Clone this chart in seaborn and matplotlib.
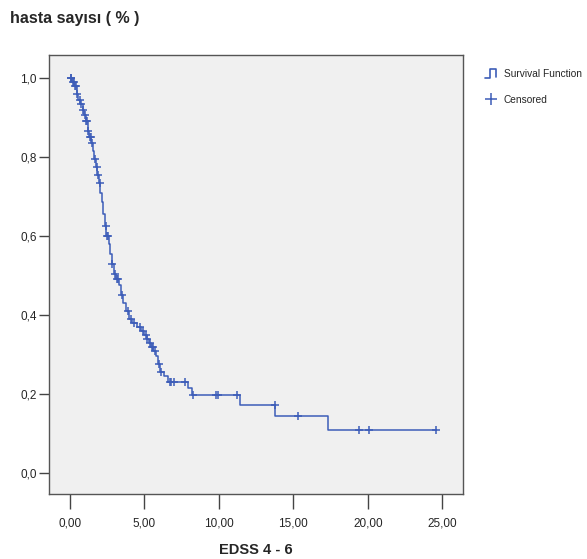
#!/usr/bin/env python3
import numpy as np
import pandas as pd
import seaborn as sns
import matplotlib.pyplot as plt
from matplotlib.lines import Line2D
from matplotlib.legend_handler import HandlerBase

# event times (years) and survival after each event
event_times = [0.15, 0.3, 0.45, 0.55, 0.7, 0.85, 0.95, 1.05, 1.2, 1.3, 1.45, 1.55,
               1.65, 1.75, 1.85, 1.95, 2.05, 2.15, 2.25, 2.35, 2.45, 2.6, 2.7, 2.8,
               2.95, 3.1, 3.3, 3.45, 3.6, 3.8, 4.0, 4.2, 4.5, 4.8, 5.0, 5.15, 5.3,
               5.45, 5.6, 5.75, 5.9, 6.05, 6.3, 6.6, 7.9, 8.2, 11.4, 13.8, 17.3]
survival = [0.99, 0.98, 0.96, 0.945, 0.935, 0.92, 0.905, 0.89, 0.865, 0.85, 0.835,
            0.815, 0.795, 0.775, 0.755, 0.735, 0.71, 0.685, 0.655, 0.625, 0.60, 0.58,
            0.555, 0.53, 0.505, 0.49, 0.475, 0.45, 0.43, 0.41, 0.39, 0.38, 0.37, 0.36,
            0.35, 0.34, 0.33, 0.32, 0.31, 0.295, 0.275, 0.255, 0.245, 0.23, 0.215,
            0.197, 0.172, 0.145, 0.108]
censored_times = [0.05, 0.1, 0.2, 0.25, 0.35, 0.4, 0.5, 0.65, 0.75, 0.9, 1.0, 1.1,
                  1.15, 1.25, 1.35, 1.4, 1.5, 1.7, 1.8, 1.9, 2.0, 2.4, 2.5, 2.55,
                  2.85, 3.0, 3.15, 3.2, 3.5, 3.9, 4.1, 4.3, 4.7, 4.9, 5.1, 5.2, 5.4,
                  5.5, 5.55, 5.7, 6.0, 6.1, 6.7, 6.8, 7.0, 7.7, 8.25, 9.8, 9.95, 11.2,
                  13.75, 15.3, 19.4, 20.1, 24.6]

xticks = [0, 5, 10, 15, 20, 25]
xticklabels = ["0,00", "5,00", "10,00", "15,00", "20,00", "25,00"]
yticks = [0.0, 0.2, 0.4, 0.6, 0.8, 1.0]
yticklabels = ["0,0", "0,2", "0,4", "0,6", "0,8", "1,0"]

BLUE = "#3d5db8"
FONT = ["Liberation Sans", "DejaVu Sans"]


class StepHandler(HandlerBase):
    # small survival-step glyph like the SPSS legend
    def create_artists(self, legend, orig_handle, xdescent, ydescent,
                       width, height, fontsize, trans):
        w = width * 0.65
        x0 = xdescent + (width - w) / 2
        h = height * 1.25
        xs = [x0, x0 + w * 0.45, x0 + w * 0.45, x0 + w, x0 + w]
        ys = [-0.1 * h, -0.1 * h, h, h, 0.05 * h]
        ln = Line2D(xs, ys, color=BLUE, lw=1.2, transform=trans)
        return [ln]


def main():
    sns.set_style("white")
    plt.rcParams["font.family"] = FONT

    # curve data: step function from 1.0 down to last follow-up
    t_curve = [0.0] + event_times + [max(censored_times)]
    s_curve = [1.0] + survival + [survival[-1]]
    curve = pd.DataFrame({"time": t_curve, "surv": s_curve})

    et = np.array(event_times)
    sv = np.array(survival)
    idx = np.searchsorted(et, np.array(censored_times), side="right") - 1
    cens_s = np.where(idx >= 0, sv[np.clip(idx, 0, None)], 1.0)
    cens = pd.DataFrame({"time": censored_times, "surv": cens_s})

    fig = plt.figure(figsize=(5.87, 5.59), dpi=100)
    ax = fig.add_axes([0.0835, 0.1163, 0.7055, 0.7853])
    ax.set_facecolor("#f0f0f0")

    sns.lineplot(data=curve, x="time", y="surv", drawstyle="steps-post",
                 estimator=None, color=BLUE, lw=1.1, ax=ax)
    sns.scatterplot(data=cens, x="time", y="surv", marker="+", s=36,
                    color=BLUE, linewidth=1.1, ax=ax, zorder=3)

    ax.set_xlim(-1.4, 26.4)
    ax.set_ylim(-0.053, 1.058)
    ax.set_xticks(xticks)
    ax.set_xticklabels(xticklabels)
    ax.set_yticks(yticks)
    ax.set_yticklabels(yticklabels)
    ax.tick_params(axis="x", length=11, width=1, color="#444444", pad=6,
                   labelsize=8.5, direction="out", bottom=True)
    ax.tick_params(axis="y", length=7, width=1, color="#444444", pad=2,
                   labelsize=8.5, direction="out", left=True)
    for sp in ax.spines.values():
        sp.set_color("#555555")
        sp.set_linewidth(1.0)

    ax.set_xlabel("EDSS 4 - 6", fontsize=10.5, fontweight="bold", labelpad=10)
    ax.set_ylabel("")
    fig.text(0.017, 0.967, "hasta sayısı ( % )", fontsize=11.5, fontweight="bold",
             va="center", ha="left")

    handles = [Line2D([], [], color=BLUE),
               Line2D([], [], color=BLUE, marker="+", ls="", ms=8, mew=1.1)]
    fig.legend(handles, ["Survival Function", "Censored"],
               handler_map={handles[0]: StepHandler()},
               loc="upper left", bbox_to_anchor=(0.815, 0.883),
               frameon=False, fontsize=7.3, handlelength=1.6,
               handletextpad=0.5, labelspacing=1.5, borderaxespad=0)

    fig.savefig("out.png", dpi=100, facecolor="white")


if __name__ == '__main__':
    main()
